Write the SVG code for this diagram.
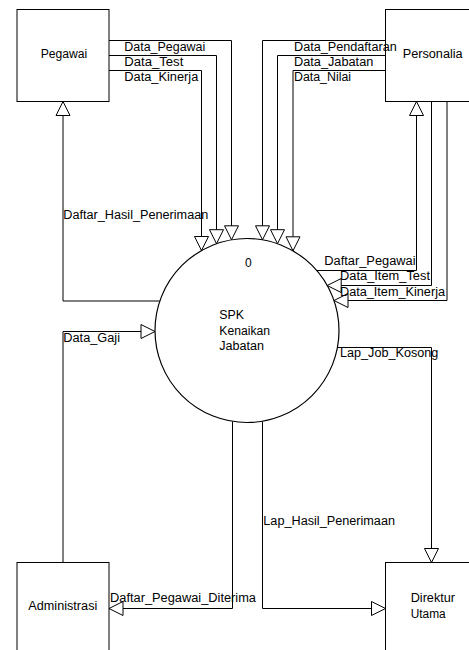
<svg xmlns="http://www.w3.org/2000/svg" width="469" height="650" viewBox="0 0 469 650">
<style>
.box{fill:#fff;stroke:#000;stroke-width:1}
.proc{fill:#fff;stroke:#000;stroke-width:1.2}
.ln{fill:none;stroke:#000;stroke-width:1;marker-end:url(#arr)}
.t{font-family:"Liberation Sans",Arial,sans-serif;font-size:12px;fill:#000}
</style>
<defs>
<marker id="arr" markerUnits="userSpaceOnUse" markerWidth="16" markerHeight="16" viewBox="-1 -1 16 16" refX="14" refY="7" orient="auto">
<path d="M0,0 L14,7 L0,14 Z" fill="#fff" stroke="#000" stroke-width="1"/>
</marker>
</defs>
<rect width="469" height="650" fill="#fff"/>
<g id="connectors">
<path class="ln" d="M109,40.5 H231.5 V239.8"/>
<path class="ln" d="M109,55.5 H216.5 V243.7"/>
<path class="ln" d="M109,70.5 H201.5 V250.5"/>
<path class="ln" d="M385.5,40.5 H262.5 V239.8"/>
<path class="ln" d="M385.5,55.5 H277.5 V243.7"/>
<path class="ln" d="M385.5,70.5 H293 V250.8"/>
<path class="ln" d="M159.9,301 H63 V101.5"/>
<path class="ln" d="M63,562.5 V331.5 H155"/>
<path class="ln" d="M316.7,270.5 H416.5 V101.5"/>
<path class="ln" d="M431.5,101.5 V285.5 H327.2"/>
<path class="ln" d="M447,101.5 V300.5 H334"/>
<path class="ln" d="M337.4,347.5 H431.5 V562.5"/>
<path class="ln" d="M232.5,421.4 V608.5 H109"/>
<path class="ln" d="M262.5,421.2 V608.5 H385.5"/>
</g>
<g id="pegawai">
<rect class="box" x="17" y="9.5" width="92" height="92"/>
<text class="t" x="40.7" y="58" textLength="46.6" lengthAdjust="spacingAndGlyphs">Pegawai</text>
</g>
<g id="personalia">
<rect class="box" x="385.5" y="9.5" width="92" height="92"/>
<text class="t" x="402.7" y="58" textLength="60" lengthAdjust="spacingAndGlyphs">Personalia</text>
</g>
<g id="administrasi">
<rect class="box" x="17" y="562.5" width="92" height="100"/>
<text class="t" x="28.3" y="610.3" textLength="69" lengthAdjust="spacingAndGlyphs">Administrasi</text>
</g>
<g id="direktur">
<rect class="box" x="385.5" y="562.5" width="92" height="100"/>
<text class="t" x="410.7" y="602" textLength="44.3" lengthAdjust="spacingAndGlyphs">Direktur</text>
<text class="t" x="410.7" y="618" textLength="35" lengthAdjust="spacingAndGlyphs">Utama</text>
</g>
<g id="proses">
<circle class="proc" cx="247" cy="330.5" r="92"/>
<text class="t" x="245" y="267">0</text>
<text class="t" x="219.3" y="318.6" textLength="24.7" lengthAdjust="spacingAndGlyphs">SPK</text>
<text class="t" x="219.3" y="334.6" textLength="50.7" lengthAdjust="spacingAndGlyphs">Kenaikan</text>
<text class="t" x="219.3" y="350.3" textLength="44.7" lengthAdjust="spacingAndGlyphs">Jabatan</text>
</g>
<g id="labels">
<text class="t" x="124.3" y="51.3" textLength="81" lengthAdjust="spacingAndGlyphs">Data_Pegawai</text>
<text class="t" x="124.3" y="66" textLength="59" lengthAdjust="spacingAndGlyphs">Data_Test</text>
<text class="t" x="124.3" y="81.3" textLength="74" lengthAdjust="spacingAndGlyphs">Data_Kinerja</text>
<text class="t" x="294" y="51.3" textLength="102.7" lengthAdjust="spacingAndGlyphs">Data_Pendaftaran</text>
<text class="t" x="294" y="66" textLength="79.3" lengthAdjust="spacingAndGlyphs">Data_Jabatan</text>
<text class="t" x="294" y="81.3" textLength="57" lengthAdjust="spacingAndGlyphs">Data_Nilai</text>
<text class="t" x="63.3" y="219.3" textLength="145" lengthAdjust="spacingAndGlyphs">Daftar_Hasil_Penerimaan</text>
<text class="t" x="63.3" y="342" textLength="56.7" lengthAdjust="spacingAndGlyphs">Data_Gaji</text>
<text class="t" x="324.3" y="265.3" textLength="91.3" lengthAdjust="spacingAndGlyphs">Daftar_Pegawai</text>
<text class="t" x="340" y="280.3" textLength="90" lengthAdjust="spacingAndGlyphs">Data_Item_Test</text>
<text class="t" x="340" y="296" textLength="105" lengthAdjust="spacingAndGlyphs">Data_Item_Kinerja</text>
<text class="t" x="340" y="357" textLength="98.3" lengthAdjust="spacingAndGlyphs">Lap_Job_Kosong</text>
<text class="t" x="263.3" y="524.6" textLength="131.7" lengthAdjust="spacingAndGlyphs">Lap_Hasil_Penerimaan</text>
<text class="t" x="110" y="602" textLength="146" lengthAdjust="spacingAndGlyphs">Daftar_Pegawai_Diterima</text>
</g>
</svg>
